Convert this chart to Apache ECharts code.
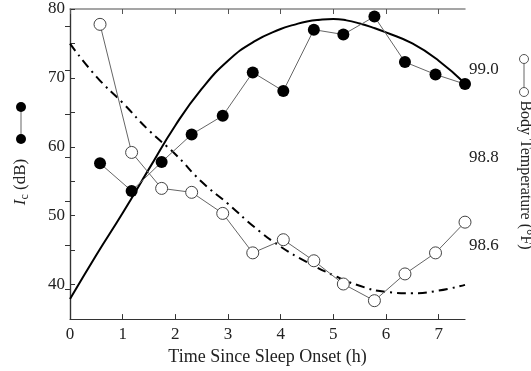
<!DOCTYPE html>
<html>
<head>
<meta charset="utf-8">
<script src="https://cdn.jsdelivr.net/npm/echarts@6/dist/echarts.min.js"></script>
<style>html,body{margin:0;padding:0;background:#fff;}#c{width:531px;height:371px;}</style>
</head>
<body>
<div id="c"></div>
<script>
// Time since sleep onset (h) for measured points
const sampleTimes = [0.57, 1.17, 1.74, 2.31, 2.90, 3.47, 4.05, 4.63, 5.19, 5.78, 6.36, 6.94, 7.5];
// Ic (dB), filled circles, left axis
const icValues = [57.6, 53.6, 57.8, 61.8, 64.5, 70.8, 68.1, 77.0, 76.3, 78.9, 72.3, 70.5, 69.1];
// Body temperature (°F), open circles, right axis
const tempValues = [99.104, 98.812, 98.730, 98.721, 98.673, 98.583, 98.613, 98.565, 98.512, 98.474, 98.535, 98.583, 98.653];
// Model curve for Ic (solid)
const icCurveX = [0, 0.5, 1.0, 1.5, 2.0, 2.5, 3.0, 3.5, 4.0, 4.25, 4.5, 4.75, 5.0, 5.25, 5.5, 5.75, 6.0, 6.5, 7.0, 7.5];
const icCurveY = [37.9, 44.3, 50.4, 56.8, 63.1, 68.4, 72.5, 75.3, 77.1, 77.7, 78.2, 78.45, 78.55, 78.35, 77.9, 77.3, 76.6, 75.0, 72.5, 69.2];
// Model curve for temperature (dash-dot)
const tempCurveX = [0, 0.5, 1.0, 1.5, 2.0, 2.5, 3.0, 3.5, 4.0, 4.5, 5.0, 5.5, 6.0, 6.5, 7.0, 7.5];
const tempCurveY = [99.06, 98.985, 98.925, 98.862, 98.808, 98.745, 98.695, 98.642, 98.597, 98.562, 98.532, 98.508, 98.494, 98.491, 98.497, 98.51];
// Tick labels
const xTicks = [0, 1, 2, 3, 4, 5, 6, 7];
const leftLabels = [40, 50, 60, 70, 80];
const leftTicks = [35, 40, 45, 50, 55, 60, 65, 70, 75, 80];
const rightLabels = [98.6, 98.8, 99.0];
const rightTicks = [98.5, 98.6, 98.7, 98.8, 98.9, 99.0, 99.1];

const zip = (a, b) => a.map((v, i) => [v, b[i]]);
const serif = 'Liberation Serif';
const chart = echarts.init(document.getElementById('c'), null, {renderer: 'canvas'});
chart.setOption({
  animation: false,
  backgroundColor: '#fff',
  grid: {left: 70, right: 66, top: 9, bottom: 48, containLabel: false},
  xAxis: [{
    type: 'value', min: 0, max: 7.5, position: 'bottom',
    name: 'Time Since Sleep Onset (h)', nameLocation: 'middle', nameGap: 26,
    nameTextStyle: {fontFamily: serif, fontSize: 18, color: '#222'},
    axisLine: {show: true, lineStyle: {color: '#333', width: 1.2}},
    axisTick: {show: true, inside: true, length: 5, customValues: xTicks, lineStyle: {color: '#333'}},
    axisLabel: {customValues: xTicks, fontFamily: serif, fontSize: 17, color: '#222', margin: 7},
    splitLine: {show: false}
  }, {
    type: 'value', min: 0, max: 7.5, position: 'top',
    axisLine: {show: true, lineStyle: {color: '#888', width: 1.5}},
    axisTick: {show: true, inside: true, length: 5, customValues: xTicks, lineStyle: {color: '#555'}},
    axisLabel: {show: false},
    splitLine: {show: false}
  }],
  yAxis: [{
    type: 'value', min: 35, max: 80, position: 'left',
    axisLine: {show: true, lineStyle: {color: '#333', width: 1.2}},
    axisTick: {show: true, inside: true, length: 5, customValues: leftTicks, lineStyle: {color: '#333'}},
    axisLabel: {customValues: leftLabels, fontFamily: serif, fontSize: 17, color: '#222', margin: 5},
    splitLine: {show: false}
  }, {
    type: 'value', min: 98.432, max: 99.139, position: 'right',
    axisLine: {show: true, lineStyle: {color: '#333', width: 1.2}},
    axisTick: {show: true, inside: true, length: 5, customValues: rightTicks, lineStyle: {color: '#333'}},
    axisLabel: {customValues: rightLabels, fontFamily: serif, fontSize: 17, color: '#222', margin: 4,
      formatter: v => v.toFixed(1)},
    splitLine: {show: false}
  }],
  series: [{
    type: 'line', xAxisIndex: 0, yAxisIndex: 0, data: zip(icCurveX, icCurveY),
    smooth: true, symbol: 'none', lineStyle: {color: '#000', width: 2}, z: 2
  }, {
    type: 'line', xAxisIndex: 0, yAxisIndex: 1, data: zip(tempCurveX, tempCurveY),
    smooth: true, symbol: 'none', lineStyle: {color: '#000', width: 2, type: [9, 5, 2, 5]}, z: 2
  }, {
    type: 'line', xAxisIndex: 0, yAxisIndex: 1, data: zip(sampleTimes, tempValues),
    symbol: 'circle', symbolSize: 12, clip: false,
    lineStyle: {color: '#666', width: 1},
    itemStyle: {color: '#fff', borderColor: '#444', borderWidth: 1}, z: 3
  }, {
    type: 'line', xAxisIndex: 0, yAxisIndex: 0, data: zip(sampleTimes, icValues),
    symbol: 'circle', symbolSize: 12, clip: false,
    lineStyle: {color: '#666', width: 1},
    itemStyle: {color: '#000'}, z: 4
  }],
  graphic: [
    {type: 'line', shape: {x1: 21, y1: 107, x2: 21, y2: 139}, style: {stroke: '#999', lineWidth: 1.5}},
    {type: 'circle', shape: {cx: 21, cy: 107, r: 5}, style: {fill: '#000'}},
    {type: 'circle', shape: {cx: 21, cy: 139, r: 5}, style: {fill: '#000'}},
    {type: 'text', x: 21, y: 182, rotation: Math.PI / 2,
      style: {text: '{i|I}{s|c} (dB)', x: 0, y: 0, align: 'center', verticalAlign: 'middle',
        font: '17px "Liberation Serif"', fill: '#222',
        rich: {i: {fontFamily: serif, fontStyle: 'italic', fontSize: 17, fill: '#222'},
               s: {fontFamily: serif, fontSize: 12, fill: '#222', padding: [7, 0, 0, 0]}}}},
    {type: 'line', shape: {x1: 524, y1: 59, x2: 524, y2: 92}, style: {stroke: '#666', lineWidth: 1}},
    {type: 'circle', shape: {cx: 524, cy: 59, r: 4.5}, style: {fill: '#fff', stroke: '#555', lineWidth: 1}},
    {type: 'circle', shape: {cx: 524, cy: 92, r: 4.5}, style: {fill: '#fff', stroke: '#555', lineWidth: 1}},
    {type: 'text', x: 525, y: 175, rotation: -Math.PI / 2,
      style: {text: 'Body Temperature (°F)', x: 0, y: 0, align: 'center', verticalAlign: 'middle',
        font: '16px "Liberation Serif"', fill: '#222'}}
  ]
});
</script>
</body>
</html>
